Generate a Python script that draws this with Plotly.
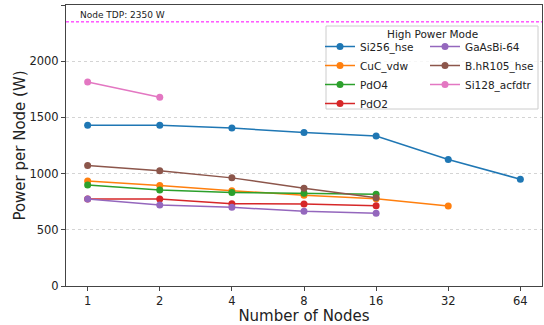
import plotly.graph_objects as go

nodes_all = [1, 2, 4, 8, 16, 32, 64]
tick_labels = ["1", "2", "4", "8", "16", "32", "64"]

si256_nodes = [1, 2, 4, 8, 16, 32, 64]
si256_power = [1430, 1430, 1405, 1365, 1335, 1125, 950]
cuc_nodes = [1, 2, 4, 8, 16, 32]
cuc_power = [935, 895, 848, 808, 776, 712]
pdo4_nodes = [1, 2, 4, 8, 16]
pdo4_power = [898, 853, 832, 826, 817]
pdo2_nodes = [1, 2, 4, 8, 16]
pdo2_power = [773, 773, 732, 729, 714]
gaasbi_nodes = [1, 2, 4, 8, 16]
gaasbi_power = [773, 720, 700, 665, 647]
bhr_nodes = [1, 2, 4, 8, 16]
bhr_power = [1073, 1026, 962, 870, 786]
si128_nodes = [1, 2]
si128_power = [1815, 1680]

tdp = 2350
y_ticks = [0, 500, 1000, 1500, 2000, 2500]

# name, x, y, colour, legend column
series = [
    ("Si256_hse", si256_nodes, si256_power, "#1f77b4", "legend"),
    ("CuC_vdw", cuc_nodes, cuc_power, "#ff7f0e", "legend"),
    ("PdO4", pdo4_nodes, pdo4_power, "#2ca02c", "legend"),
    ("PdO2", pdo2_nodes, pdo2_power, "#d62728", "legend"),
    ("GaAsBi-64", gaasbi_nodes, gaasbi_power, "#9467bd", "legend2"),
    ("B.hR105_hse", bhr_nodes, bhr_power, "#8c564b", "legend2"),
    ("Si128_acfdtr", si128_nodes, si128_power, "#e377c2", "legend2"),
]

fig = go.Figure()
for name, xs, ys, color, leg in series:
    fig.add_trace(go.Scatter(
        x=xs, y=ys, name=name, mode="lines+markers",
        line=dict(color=color, width=1.5),
        marker=dict(color=color, size=7),
        legend=leg,
    ))

fig.add_hline(y=tdp, line=dict(color="#ff00ff", width=1, dash="3px,2px"))
fig.add_annotation(
    x=0, xref="paper", y=tdp, yref="y", text=f"Node TDP: {tdp} W",
    showarrow=False, xanchor="left", yanchor="bottom", xshift=12, yshift=0,
    font=dict(size=9, color="#222"),
)

# plot-area geometry in pixels (figure 544x325)
L, R, T, B = 66, 2, 5, 39
PW, PH = 544 - L - R, 325 - T - B


def px_x(p):
    return (p - L) / PW


def px_y(p):
    return (325 - B - p) / PH


# legend frame and title
fig.add_shape(type="rect", xref="paper", yref="paper",
              x0=px_x(326), x1=px_x(538), y0=px_y(109), y1=px_y(26),
              line=dict(color="#cccccc", width=1),
              fillcolor="rgba(255,255,255,0.8)", layer="above")
fig.add_annotation(x=px_x(432), y=px_y(34), xref="paper", yref="paper",
                   text="High Power Mode", showarrow=False,
                   xanchor="center", yanchor="middle",
                   font=dict(size=10.5, color="#222"))

leg_common = dict(
    orientation="v", yanchor="top", xanchor="left",
    bgcolor="rgba(0,0,0,0)", borderwidth=0,
    font=dict(size=10.5, color="#222"), itemwidth=30, tracegroupgap=0,
)

font_family = "DejaVu Sans"
fig.update_layout(
    width=544, height=325,
    margin=dict(l=L, r=R, t=T, b=B, autoexpand=False),
    paper_bgcolor="white", plot_bgcolor="white",
    font=dict(family=font_family, color="#222"),
    showlegend=True,
    legend=dict(x=px_x(320), y=px_y(32), **leg_common),
    legend2=dict(x=px_x(425), y=px_y(32), **leg_common),
    xaxis=dict(
        type="log",
        range=[-0.3 * 0.30103, 6.3 * 0.30103],
        tickvals=nodes_all, ticktext=tick_labels,
        showgrid=False, zeroline=False,
        showline=True, linecolor="#444", linewidth=1, mirror=True,
        ticks="outside", ticklen=4, tickcolor="#444",
        tickfont=dict(size=11.5),
        automargin=False,
        title=dict(text="Number of Nodes", font=dict(size=15), standoff=3),
    ),
    yaxis=dict(
        range=[0, 2500],
        tickvals=y_ticks,
        showgrid=True, gridcolor="#d4d4d4", griddash="dot", gridwidth=1,
        zeroline=False,
        showline=True, linecolor="#444", linewidth=1, mirror=True,
        ticks="outside", ticklen=4, tickcolor="#444",
        tickfont=dict(size=11.5),
        automargin=False,
        title=dict(text="Power per Node (W)", font=dict(size=15), standoff=0),
    ),
)

fig.write_html("out.html", config={"displayModeBar": False},
               post_script="document.body.style.margin='0px';")
